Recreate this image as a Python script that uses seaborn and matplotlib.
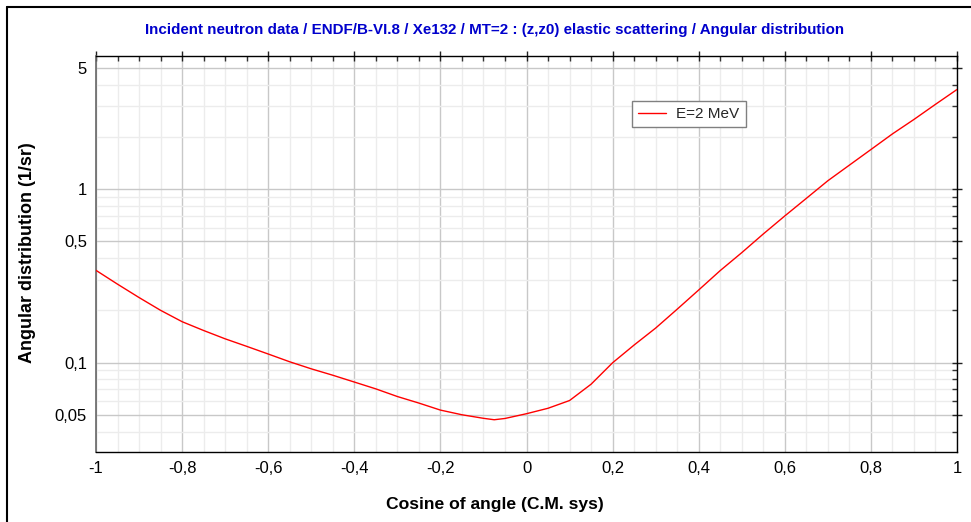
import numpy as np
import pandas as pd
import matplotlib
matplotlib.use("Agg")
import matplotlib.pyplot as plt
from matplotlib.lines import Line2D
from matplotlib.ticker import FixedLocator, FuncFormatter, NullFormatter
import seaborn as sns

# Xe132 elastic scattering angular distribution at E = 2 MeV
cosine = [-1.0, -0.95, -0.9, -0.85, -0.8, -0.75, -0.7, -0.65, -0.6, -0.55,
          -0.5, -0.45, -0.4, -0.35, -0.3, -0.25, -0.2, -0.15, -0.1, -0.075,
          -0.05, 0.0, 0.05, 0.1, 0.15, 0.2, 0.25, 0.3, 0.35, 0.4,
          0.45, 0.5, 0.55, 0.6, 0.65, 0.7, 0.75, 0.8, 0.85, 0.9,
          0.95, 1.0]
dist = [0.340, 0.283, 0.237, 0.200, 0.172, 0.153, 0.137, 0.124, 0.112, 0.101,
        0.092, 0.0845, 0.0772, 0.0705, 0.0637, 0.0584, 0.0532, 0.0500, 0.0477, 0.0468,
        0.0476, 0.0507, 0.0545, 0.0604, 0.0750, 0.0997, 0.1262, 0.158, 0.203, 0.262,
        0.339, 0.430, 0.551, 0.700, 0.884, 1.117, 1.374, 1.69, 2.08, 2.52,
        3.08, 3.75]
series_label = "E=2 MeV"

x_major = [-1, -0.8, -0.6, -0.4, -0.2, 0, 0.2, 0.4, 0.6, 0.8, 1]
y_major = [0.05, 0.1, 0.5, 1, 5]
y_minor = [0.04, 0.06, 0.07, 0.08, 0.09, 0.2, 0.3, 0.4,
           0.6, 0.7, 0.8, 0.9, 2, 3, 4]

title = ("Incident neutron data / ENDF/B-VI.8 / Xe132 / MT=2 : (z,z0) "
         "elastic scattering / Angular distribution")
xlabel = "Cosine of angle (C.M. sys)"
ylabel = "Angular distribution (1/sr)"

sns.set_theme(style="white")
plt.rcParams["font.family"] = ["Liberation Sans", "DejaVu Sans"]

df = pd.DataFrame({"cosine": cosine, "dist": dist})

W, H = 971, 522
fig = plt.figure(figsize=(W / 100, H / 100), dpi=100)
fig.patch.set_facecolor("white")
ax = fig.add_axes([96 / W, (H - 452) / H, 861 / W, 396 / H])

sns.lineplot(data=df, x="cosine", y="dist", ax=ax, color="#ff0000",
             linewidth=1.0, label=series_label, zorder=3)

ax.set_yscale("log")
ax.set_xlim(-1, 1)
ax.set_ylim(0.0305, 5.85)


def comma(v, pos=None):
    s = f"{v:g}"
    return s.replace(".", ",")


ax.xaxis.set_major_locator(FixedLocator(x_major))
ax.xaxis.set_minor_locator(FixedLocator(np.round(np.arange(-1, 1.0001, 0.05), 2)))
ax.xaxis.set_major_formatter(FuncFormatter(comma))
ax.yaxis.set_major_locator(FixedLocator(y_major))
ax.yaxis.set_minor_locator(FixedLocator(y_minor))
ax.yaxis.set_major_formatter(FuncFormatter(comma))
ax.yaxis.set_minor_formatter(NullFormatter())

ax.set_axisbelow(True)
ax.grid(which="major", color="#c8c8c8", linewidth=1.0)
ax.grid(which="minor", color="#ececec", linewidth=1.0)

ax.tick_params(which="major", direction="inout", length=7, width=1,
               top=True, right=True, labelsize=12, pad=3, colors="#222222",
               labelcolor="black")
ax.tick_params(which="minor", direction="in", length=3.5, width=1,
               top=True, right=True, colors="#333333")

for side in ["top", "right", "bottom"]:
    ax.spines[side].set_color("black")
    ax.spines[side].set_linewidth(1.0)
ax.spines["left"].set_color("#666666")
ax.spines["left"].set_linewidth(1.2)

ax.set_xlabel("")
ax.set_ylabel("")

leg = ax.legend(loc="upper left", bbox_to_anchor=((632 - 96) / 861, (452 - 101) / 396),
                borderaxespad=0, fontsize=11, frameon=True, fancybox=False,
                framealpha=1, edgecolor="#808080", handlelength=1.85,
                handletextpad=0.65, borderpad=0.4)
leg.get_frame().set_linewidth(1.0)

fig.text(495 / W, 1 - 30 / H, title, ha="center", va="center",
         color="#0000cc", fontsize=10.9, fontweight="bold")
fig.text(495 / W, 1 - 505 / H, xlabel, ha="center", va="center",
         color="black", fontsize=12.6, fontweight="bold")
fig.text(28 / W, 1 - 253 / H, ylabel, ha="center", va="center",
         rotation=90, color="black", fontsize=13, fontweight="bold")

# frame edges along the top and left of the figure
fig.add_artist(Line2D([7 / W, 1], [1 - 7 / H, 1 - 7 / H],
                      transform=fig.transFigure, color="black", linewidth=1.5))
fig.add_artist(Line2D([7 / W, 7 / W], [0, 1 - 7 / H],
                      transform=fig.transFigure, color="black", linewidth=1.5))

fig.savefig("out.png", dpi=100, facecolor="white")
